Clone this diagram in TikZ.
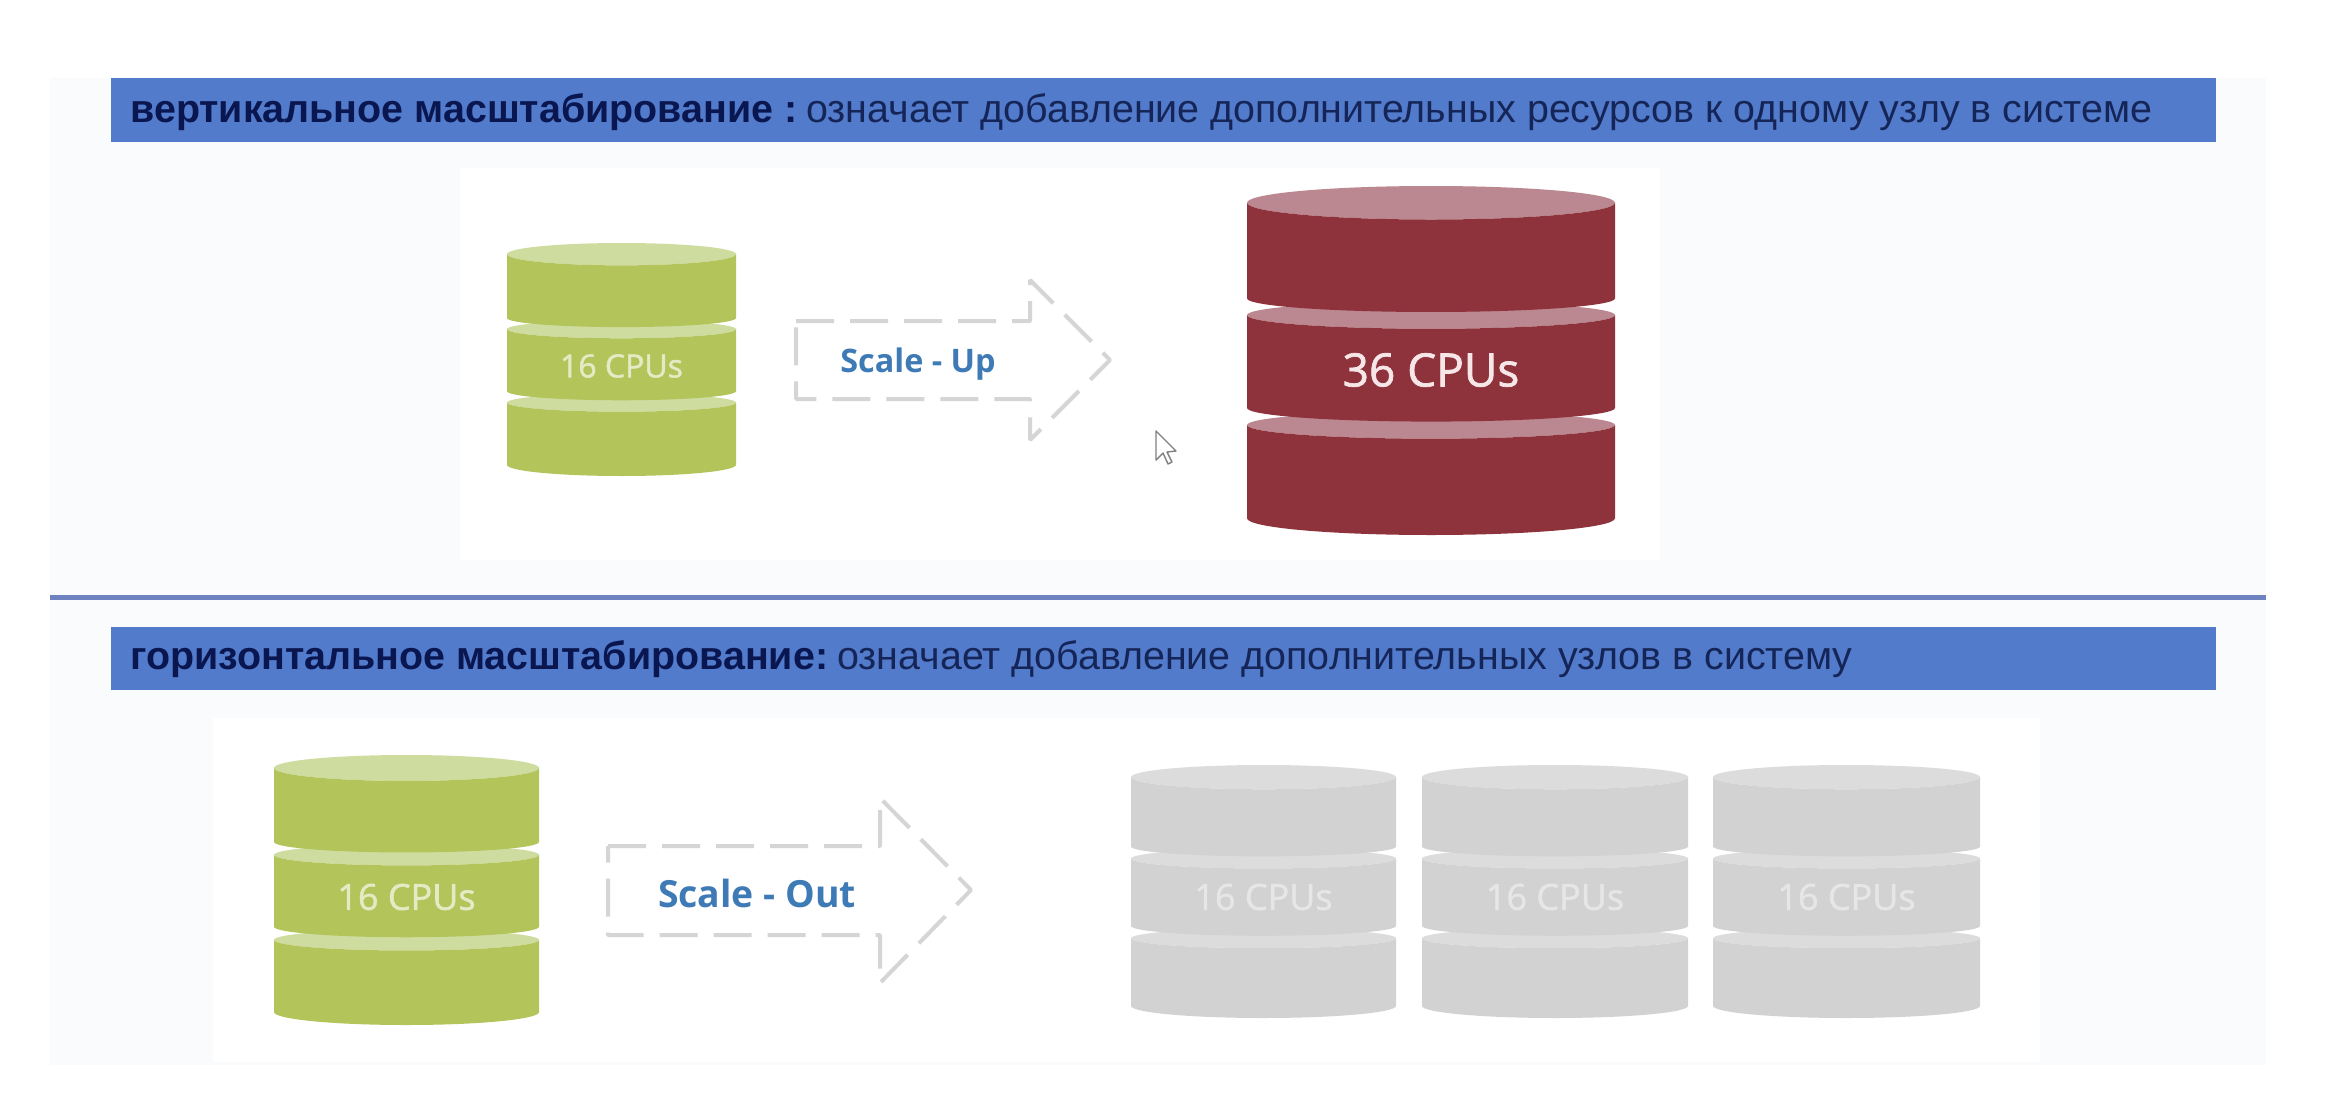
\documentclass[tikz,border=0pt]{standalone}
\usepackage{fontspec}
\setmainfont{Liberation Sans}
\newfontfamily\cpufont[FakeBold=1.5]{Open Sans}
\newfontfamily\scalefont{Open Sans}
\definecolor{panelbg}{HTML}{FAFBFD}
\definecolor{bandblue}{HTML}{527BCB}
\definecolor{rulecol}{HTML}{6F82C0}
\definecolor{headbold}{HTML}{0A1650}
\definecolor{headreg}{HTML}{152558}
\definecolor{greendark}{HTML}{B2C45A}
\definecolor{greenlight}{HTML}{CFDC9F}
\definecolor{greentext}{HTML}{E4EAC4}
\definecolor{reddark}{HTML}{8E333C}
\definecolor{redlight}{HTML}{BB8790}
\definecolor{redtext}{HTML}{F6E6E8}
\definecolor{graydark}{HTML}{D2D2D2}
\definecolor{graylight}{HTML}{DCDCDC}
\definecolor{graytext}{HTML}{E6E6E6}
\definecolor{dashgray}{HTML}{D5D5D5}
\definecolor{scaleblue}{HTML}{3E7AB5}
\tikzset{
  headtext/.style={anchor=base west,inner sep=0pt,font=\fontsize{19.7}{19.7}\selectfont},
  dashedarrow/.style={draw=dashgray,line width=2pt,fill=white,dash pattern=on 19pt off 8pt,line join=bevel},
  scalelabel/.style={text=scaleblue,inner sep=0pt},
  cputext/.style={inner sep=0pt},
}
% #1 name, #2 left, #3 top, #4 width, #5 height, #6 palette, #7 font pt, #8 text, #9 text y
\newcommand{\dbcyl}[9]{%
  \pgfmathsetmacro{\rx}{#4/2}%
  \pgfmathsetmacro{\ry}{0.048*#5}%
  \pgfmathsetmacro{\ri}{0.039*#5}%
  \pgfmathsetmacro{\rgt}{#2+#4}%
  \pgfmathsetmacro{\midx}{#2+#4/2}%
  \pgfmathsetmacro{\ya}{#3+\ry}%
  \pgfmathsetmacro{\yb}{#3+0.322*#5}%
  \pgfmathsetmacro{\yc}{#3+0.370*#5}%
  \pgfmathsetmacro{\yd}{#3+0.636*#5}%
  \pgfmathsetmacro{\ye}{#3+0.685*#5}%
  \pgfmathsetmacro{\yf}{#3+0.952*#5}%
  % bottom tier
  \fill[#6light] (\midx,\ye) ellipse[x radius=\rx,y radius=\ri];
  \fill[#6dark] (#2,\ye) arc[start angle=180,end angle=0,x radius=\rx,y radius=\ri] -- (\rgt,\yf) arc[start angle=0,end angle=180,x radius=\rx,y radius=\ry] -- cycle;
  % middle tier
  \fill[#6light] (\midx,\yc) ellipse[x radius=\rx,y radius=\ri];
  \fill[#6dark] (#2,\yc) arc[start angle=180,end angle=0,x radius=\rx,y radius=\ri] -- (\rgt,\yd) arc[start angle=0,end angle=180,x radius=\rx,y radius=\ri] -- cycle;
  % top tier
  \fill[#6light] (\midx,\ya) ellipse[x radius=\rx,y radius=\ry];
  \fill[#6dark] (#2,\ya) arc[start angle=180,end angle=0,x radius=\rx,y radius=\ry] -- (\rgt,\yb) arc[start angle=0,end angle=180,x radius=\rx,y radius=\ri] -- cycle;
  \node[cputext,text=#6text,font=\cpufont\fontsize{#7}{#7}\selectfont] (#1) at (\midx,#9) {#8};%
}
\begin{document}
\begin{tikzpicture}[x=0.5pt,y=-0.5pt]
\useasboundingbox (0,0) rectangle (2352,1108);
\fill[white] (0,0) rectangle (2352,1108);
\fill[panelbg] (50,78) rectangle (2266,1065);
\fill[white] (460,168) rectangle (1660,560);
\fill[white] (213,718) rectangle (2040,1062);
% bands
\fill[bandblue] (111,78) rectangle (2216,142);
\fill[bandblue] (111,627) rectangle (2216,690);
\fill[rulecol] (50,595) rectangle (2266,600);
\node[headtext,text=headbold] (h1b) at (130,122) {\textbf{вертикальное масштабирование :}};
\node[headtext,text=headreg] (h1r) at (806,122) {означает добавление дополнительных ресурсов к одному узлу в системе};
\node[headtext,text=headbold] (h2b) at (130,669) {\textbf{горизонтальное масштабирование:}};
\node[headtext,text=headreg] (h2r) at (837,669) {означает добавление дополнительных узлов в систему};
% cylinders
\dbcyl{c1}{507}{243}{229}{233}{green}{16}{16 CPUs}{366}
\dbcyl{c2}{1247}{186}{368}{349}{red}{23}{36 CPUs}{370}
\dbcyl{c3}{274}{755}{265}{270}{green}{18}{16 CPUs}{897}
\dbcyl{c4}{1131}{765}{265}{253}{gray}{18}{16 CPUs}{897}
\dbcyl{c5}{1422}{765}{266}{253}{gray}{18}{16 CPUs}{897}
\dbcyl{c6}{1713}{765}{267}{253}{gray}{18}{16 CPUs}{897}
% arrows
\draw[dashedarrow] (796,321) -- (1030,321) -- (1030,280) -- (1110,360) -- (1030,440) -- (1030,399) -- (796,399) -- cycle;
\node[scalelabel,font=\scalefont\bfseries\fontsize{16.2}{16.2}\selectfont] (lup) at (918,364) {Scale - Up};
\draw[dashedarrow] (608,846) -- (880,846) -- (880,798) -- (971,890) -- (880,983) -- (880,935) -- (608,935) -- cycle;
\node[scalelabel,font=\scalefont\bfseries\fontsize{18.7}{18.7}\selectfont] (lout) at (757,893) {Scale - Out};
% cursor
\draw[draw=gray,fill=white,line width=0.7pt,line join=round] (1156,431) -- (1156,460) -- (1163,453) -- (1168,464) -- (1172,462) -- (1167,452) -- (1176,451) -- cycle;
\end{tikzpicture}
\end{document}
